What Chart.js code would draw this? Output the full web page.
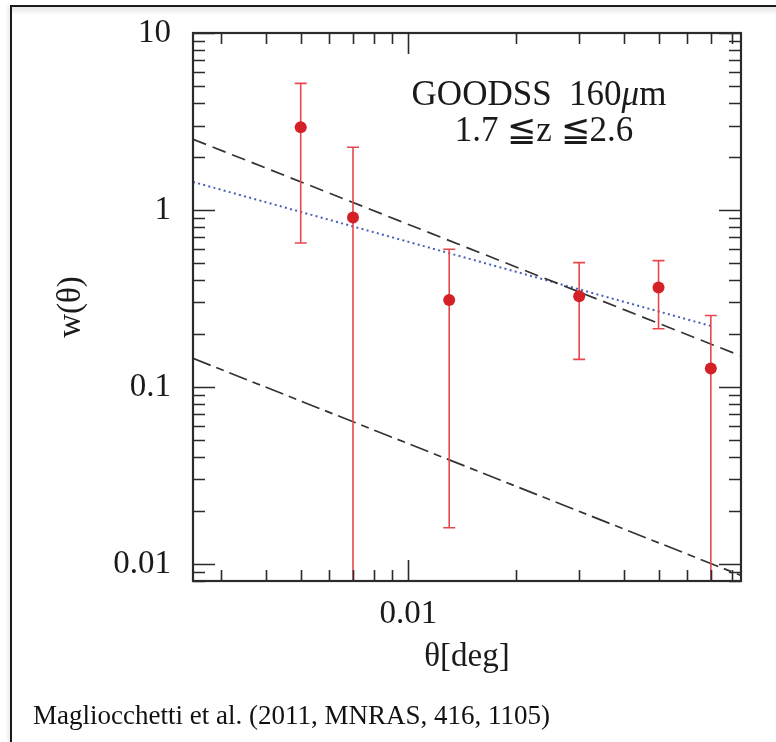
<!DOCTYPE html>
<html>
<head>
<meta charset="utf-8">
<script src="https://cdn.jsdelivr.net/npm/chart.js@4.4.1/dist/chart.umd.min.js"></script>
<style>
  html, body { margin: 0; padding: 0; background: #fff; }
  #wrap { position: relative; width: 776px; height: 742px; overflow: hidden; background: #fff; }
  .shade { position: absolute; left: 12px; top: 7px; width: 764px; height: 8px; z-index: 2;
           background: linear-gradient(rgba(0,0,0,0.10), rgba(0,0,0,0)); }
  .rule-top { position: absolute; left: 10px; top: 5px; width: 766px; height: 2px; z-index: 3;
              background: #1a1a1a; }
  .rule-left { position: absolute; left: 10px; top: 5px; width: 2px; height: 737px; z-index: 3;
               background: #1a1a1a; box-shadow: -2px 0 3px rgba(0,0,0,0.12); }
  #plot { position: absolute; left: 0; top: 0; z-index: 1; }
  #caption {
    position: absolute; left: 33px; top: 702px; z-index: 2;
    font-family: "Liberation Serif", serif; font-size: 27px; line-height: 1;
    color: #111; white-space: nowrap;
  }
</style>
</head>
<body>
<div id="wrap">
  <canvas id="plot" width="776" height="742"></canvas>
  <div class="shade"></div>
  <div class="rule-top"></div>
  <div class="rule-left"></div>
  <div id="caption">Magliocchetti et al. (2011, MNRAS, 416, 1105)</div>
</div>
<script>
// Angular correlation measurements
const theta = [0.005, 0.007, 0.013, 0.030, 0.050, 0.070];
const wTheta = [2.93, 0.906, 0.31, 0.325, 0.365, 0.127];
const wLow = [0.65, 0.001, 0.016, 0.143, 0.213, 0.001];
const wHigh = [5.19, 2.26, 0.60, 0.504, 0.517, 0.253];

// Model curves (end points of the power laws)
const dashedX = [0.0025, 0.085];
const dashedY = [2.51, 0.1496];
const dashDotX = [0.0025, 0.085];
const dashDotY = [0.145, 0.0086];
const dottedX = [0.0025, 0.07];
const dottedY = [1.44, 0.221];

// Axis ranges and tick marks
const xRange = [0.0025, 0.085];
const yRange = [0.008, 10];
const xTicks = [0.003, 0.004, 0.005, 0.006, 0.007, 0.008, 0.009, 0.01,
                0.02, 0.03, 0.04, 0.05, 0.06, 0.07, 0.08];
const yTicks = [0.008, 0.009, 0.01, 0.02, 0.03, 0.04, 0.05, 0.06, 0.07, 0.08, 0.09,
                0.1, 0.2, 0.3, 0.4, 0.5, 0.6, 0.7, 0.8, 0.9,
                1, 2, 3, 4, 5, 6, 7, 8, 9, 10];
const xLabels = [0.01];
const yLabels = [0.01, 0.1, 1, 10];

const serif = '"Liberation Serif", "DejaVu Serif", serif';
const ink = '#2b2b2b';

const pairs = (xs, ys) => xs.map((x, i) => ({ x: x, y: ys[i] }));

const isMajor = v => Math.abs(Math.log10(v) - Math.round(Math.log10(v))) < 1e-9;

// keep the plot box fixed: no extra room for overhanging tick labels
const noLabelPadding = s => {
    s.paddingTop = 0; s.paddingBottom = 0;
    s.paddingLeft = 0; s.paddingRight = 0;
};

// Error bars, drawn just before the points
const errorBars = {
    id: 'errorBars',
    beforeDatasetDraw(chart, args) {
        if (args.index !== 0) return;
        const { ctx, chartArea: a, scales: { x, y } } = chart;
        ctx.save();
        ctx.beginPath();
        ctx.rect(a.left, a.top, a.right - a.left, a.bottom - a.top);
        ctx.clip();
        ctx.strokeStyle = '#e8474d';
        ctx.lineWidth = 1.6;
        const cap = 6;
        theta.forEach((t, i) => {
            const px = x.getPixelForValue(t);
            const top = y.getPixelForValue(wHigh[i]);
            const bot = y.getPixelForValue(wLow[i]);
            ctx.beginPath();
            ctx.moveTo(px, top); ctx.lineTo(px, bot);
            ctx.moveTo(px - cap, top); ctx.lineTo(px + cap, top);
            ctx.moveTo(px - cap, bot); ctx.lineTo(px + cap, bot);
            ctx.stroke();
        });
        ctx.restore();
    }
};

// Box frame with inward ticks on all four sides, plus the sample label
const frameTicks = {
    id: 'frameTicks',
    afterDatasetsDraw(chart) {
        const { ctx, chartArea: a, scales: { x, y } } = chart;
        ctx.save();
        ctx.strokeStyle = ink;
        ctx.lineWidth = 1.6;
        ctx.beginPath();
        xTicks.forEach(v => {
            const px = Math.round(x.getPixelForValue(v)) + 0.5;
            const len = isMajor(v) ? 21 : 11;
            ctx.moveTo(px, a.bottom); ctx.lineTo(px, a.bottom - len);
            ctx.moveTo(px, a.top); ctx.lineTo(px, a.top + len);
        });
        yTicks.forEach(v => {
            const py = Math.round(y.getPixelForValue(v)) + 0.5;
            const len = isMajor(v) ? 22 : 12;
            ctx.moveTo(a.left, py); ctx.lineTo(a.left + len, py);
            ctx.moveTo(a.right, py); ctx.lineTo(a.right - len, py);
        });
        ctx.stroke();
        ctx.lineWidth = 2.2;
        ctx.strokeRect(a.left, a.top, a.right - a.left, a.bottom - a.top);

        ctx.fillStyle = '#1a1a1a';
        ctx.textBaseline = 'alphabetic';
        const size = 35;
        const parts1 = [
            { t: 'GOODSS  160', f: size + 'px ' + serif },
            { t: 'μ', f: 'italic ' + size + 'px ' + serif },
            { t: 'm', f: size + 'px ' + serif }
        ];
        let w1 = 0;
        parts1.forEach(p => { ctx.font = p.f; w1 += ctx.measureText(p.t).width; });
        let sx = 539 - w1 / 2;
        parts1.forEach(p => { ctx.font = p.f; ctx.fillText(p.t, sx, 105); sx += ctx.measureText(p.t).width; });
        ctx.font = size + 'px ' + serif;
        ctx.textAlign = 'center';
        ctx.fillText('1.7 ≦z ≦2.6', 544, 141);
        ctx.restore();
    }
};

new Chart(document.getElementById('plot'), {
    type: 'scatter',
    data: {
        datasets: [
            {
                label: 'w(θ)',
                data: pairs(theta, wTheta),
                backgroundColor: '#d42127',
                borderWidth: 0,
                pointRadius: 6,
                clip: false
            },
            {
                type: 'line',
                data: pairs(dashedX, dashedY),
                borderColor: '#333',
                borderWidth: 1.7,
                borderDash: [14, 7],
                pointRadius: 0,
                fill: false
            },
            {
                type: 'line',
                data: pairs(dashDotX, dashDotY),
                borderColor: '#333',
                borderWidth: 1.7,
                borderDash: [19, 6, 8, 6],
                pointRadius: 0,
                fill: false
            },
            {
                type: 'line',
                data: pairs(dottedX, dottedY),
                borderColor: '#4a5fb8',
                borderWidth: 2,
                borderDash: [2, 3.3],
                pointRadius: 0,
                fill: false
            }
        ]
    },
    options: {
        responsive: false,
        animation: false,
        events: [],
        layout: { autoPadding: false, padding: { left: 0, top: 33, right: 35, bottom: 0 } },
        plugins: { legend: { display: false }, tooltip: { enabled: false } },
        scales: {
            x: {
                type: 'logarithmic',
                min: xRange[0],
                max: xRange[1],
                afterFit: s => { s.height = 161; noLabelPadding(s); },
                afterBuildTicks: s => { s.ticks = xTicks.map(v => ({ value: v })); },
                grid: { display: false, drawTicks: false },
                border: { display: false },
                ticks: {
                    autoSkip: false,
                    maxRotation: 0,
                    padding: 14,
                    color: '#1a1a1a',
                    font: { family: serif, size: 33 },
                    callback: v => (xLabels.includes(v) ? String(v) : '')
                },
                title: {
                    display: true,
                    text: 'θ[deg]',
                    color: '#1a1a1a',
                    font: { family: serif, size: 33 },
                    padding: { bottom: 65 }
                }
            },
            y: {
                type: 'logarithmic',
                min: yRange[0],
                max: yRange[1],
                afterFit: s => { s.width = 193; noLabelPadding(s); },
                afterBuildTicks: s => { s.ticks = yTicks.map(v => ({ value: v })); },
                grid: { display: false, drawTicks: false },
                border: { display: false },
                ticks: {
                    autoSkip: false,
                    padding: 22,
                    color: '#1a1a1a',
                    font: { family: serif, size: 33 },
                    callback: v => (yLabels.includes(v) ? String(v) : '')
                },
                title: {
                    display: true,
                    text: 'w(θ)',
                    color: '#1a1a1a',
                    font: { family: serif, size: 33 },
                    padding: { top: 52 }
                }
            }
        }
    },
    plugins: [errorBars, frameTicks]
});
</script>
</body>
</html>
